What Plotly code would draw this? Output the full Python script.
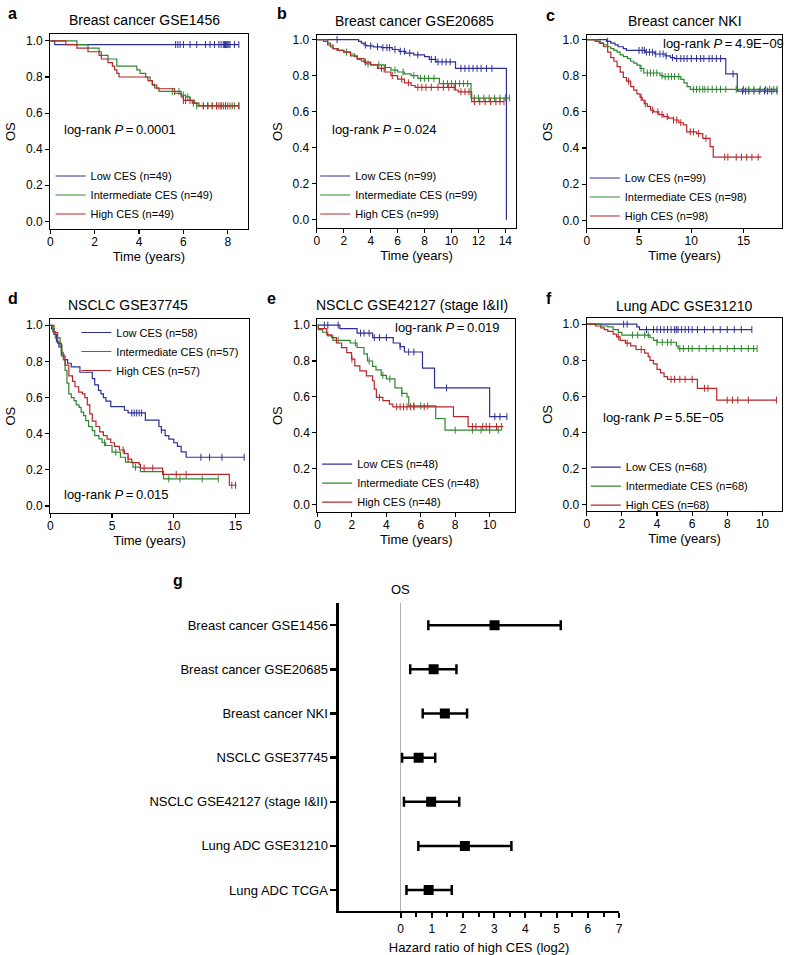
import plotly.graph_objects as go

W, H = 788, 955
FONT = "Liberation Sans"
BLUE, GREEN, RED = "#2d2f96", "#2f862f", "#b8262b"

# ---------------- data: Kaplan-Meier step curves ----------------
# panel a  Breast cancer GSE1456
a_low_t = [0.2]
a_low_s = [0.98]
a_low_end = 8.5
a_low_c = [5.65, 5.75, 5.85, 6.0, 6.3, 6.6, 7.0, 7.2, 7.4, 7.6, 7.7, 7.8, 7.85, 7.9, 7.95, 8.0, 8.05, 8.1, 8.3, 8.5]
a_int_t = [1.2, 1.7, 2.2, 2.3, 2.6, 3.0, 3.9, 4.05, 4.3, 4.5, 4.6, 4.7, 4.9, 5.9, 6.1, 6.3, 6.5, 6.6]
a_int_s = [0.98, 0.96, 0.94, 0.92, 0.90, 0.86, 0.84, 0.82, 0.80, 0.78, 0.76, 0.74, 0.72, 0.70, 0.69, 0.67, 0.655, 0.64]
a_int_end = 8.5
a_int_c = [5.5, 5.6, 5.8, 6.0, 6.2, 6.6, 6.9, 7.1, 7.3, 7.5, 7.7, 7.9, 8.1, 8.3, 8.5]
a_high_t = [0.7, 1.2, 1.7, 2.2, 2.3, 2.6, 2.8, 2.9, 3.0, 3.1, 4.4, 4.6, 4.8, 5.6, 5.9, 6.0, 6.4, 6.7]
a_high_s = [0.98, 0.96, 0.94, 0.92, 0.90, 0.88, 0.86, 0.84, 0.82, 0.80, 0.78, 0.755, 0.735, 0.71, 0.69, 0.67, 0.655, 0.64]
a_high_end = 8.5
a_high_c = [6.0, 6.1, 6.3, 6.45, 6.9, 7.1, 7.3, 7.5, 7.6, 7.7, 7.8, 7.9, 8.0, 8.2, 8.5]

# panel b  Breast cancer GSE20685
b_low_t = [3.1, 3.3, 3.5, 3.7, 4.2, 4.8, 5.6, 6.1, 6.6, 7.2, 8.0, 8.35, 8.85, 10.3, 14.08]
b_low_s = [0.99, 0.98, 0.97, 0.965, 0.96, 0.955, 0.945, 0.935, 0.925, 0.915, 0.905, 0.89, 0.876, 0.84, 0.0]
b_low_end = 14.08
b_low_c = [1.5, 3.6, 4.0, 4.5, 4.9, 5.2, 5.4, 5.8, 6.2, 6.5, 6.9, 7.5, 8.5, 8.8, 9.0, 9.3, 9.6, 9.9,
           10.7, 11.0, 11.3, 11.6, 11.9, 12.2, 12.6, 13.0]
b_int_t = [0.5, 0.8, 1.0, 1.2, 1.6, 2.0, 2.5, 2.8, 3.0, 3.3, 3.6, 4.0, 5.0, 5.5, 6.0, 6.5, 7.0, 7.5, 9.1, 11.45]
b_int_s = [0.99, 0.98, 0.96, 0.95, 0.94, 0.93, 0.92, 0.905, 0.89, 0.88, 0.865, 0.86, 0.845, 0.83, 0.82, 0.81,
           0.80, 0.785, 0.755, 0.675]
b_int_end = 14.3
b_int_c = [2.2, 3.8, 4.6, 5.1, 5.8, 6.4, 7.2, 7.7, 8.0, 8.3, 8.7, 9.4, 9.7, 10.0, 10.3, 10.6, 10.9, 11.2,
           11.7, 12.0, 12.4, 12.8, 13.2, 13.6, 14.0, 14.3]
b_high_t = [0.8, 1.2, 1.5, 2.0, 2.5, 3.0, 3.5, 4.0, 4.5, 5.0, 5.5, 6.0, 6.5, 7.0, 7.3, 10.3, 10.5, 11.5]
b_high_s = [0.97, 0.95, 0.94, 0.93, 0.91, 0.895, 0.875, 0.86, 0.84, 0.82, 0.80, 0.78, 0.76, 0.745, 0.735,
            0.72, 0.71, 0.655]
b_high_end = 13.9
b_high_c = [3.6, 4.8, 5.6, 6.3, 6.8, 7.5, 7.8, 8.1, 8.5, 9.0, 9.4, 9.8, 10.2, 10.7, 11.0, 11.3, 11.7, 12.1,
            12.5, 12.9, 13.3, 13.6, 13.9]

# panel c  Breast cancer NKI
c_low_t = [1.9, 2.3, 2.7, 3.0, 3.5, 3.8, 5.6, 6.5, 7.5, 8.0, 8.4, 13.3, 14.4]
c_low_s = [0.99, 0.98, 0.97, 0.96, 0.95, 0.94, 0.93, 0.92, 0.91, 0.90, 0.895, 0.81, 0.715]
c_low_end = 18.3
c_low_c = [2.0, 5.0, 5.3, 5.5, 5.7, 6.0, 6.3, 6.6, 7.0, 7.3, 7.6, 8.2, 8.6, 9.0, 9.3, 9.6, 10.0, 10.5,
           10.9, 11.2, 11.7, 12.0, 12.4, 12.8, 14.0, 14.9, 15.2, 15.5, 16.0, 16.5, 17.0, 17.3, 17.7, 18.2]
c_int_t = [1.0, 1.3, 1.6, 2.0, 2.3, 2.6, 2.9, 3.2, 3.5, 3.9, 4.2, 4.5, 4.8, 5.1, 5.45, 7.0, 7.3, 9.0,
           9.3, 9.6, 9.9]
c_int_s = [0.99, 0.98, 0.97, 0.96, 0.95, 0.94, 0.93, 0.915, 0.905, 0.895, 0.88, 0.87, 0.858, 0.84, 0.815,
           0.80, 0.795, 0.78, 0.76, 0.74, 0.725]
c_int_end = 18.2
c_int_c = [5.2, 5.8, 6.1, 6.4, 6.7, 7.2, 7.5, 7.8, 8.1, 8.4, 8.8, 10.2, 10.5, 10.8, 11.1, 11.3, 11.6, 12.0,
           12.4, 12.8, 13.3, 14.3, 15.0, 15.5, 16.0, 16.6, 17.1, 17.5, 17.9, 18.2]
c_high_t = [0.8, 1.2, 1.6, 2.0, 2.3, 2.6, 2.9, 3.2, 3.5, 3.8, 4.2, 4.5, 4.8, 5.1, 5.3, 5.5, 5.8, 6.1, 6.4,
            6.9, 7.35, 7.8, 8.3, 8.8, 9.24, 9.56, 10.5, 11.1, 11.8, 12.1]
c_high_s = [0.99, 0.98, 0.96, 0.93, 0.90, 0.88, 0.85, 0.82, 0.79, 0.77, 0.74, 0.72, 0.70, 0.68, 0.665,
            0.645, 0.63, 0.61, 0.60, 0.585, 0.574, 0.565, 0.555, 0.54, 0.528, 0.49, 0.48, 0.454, 0.408, 0.35]
c_high_end = 16.7
c_high_c = [4.0, 5.2, 5.6, 6.3, 6.8, 7.2, 7.7, 8.3, 8.6, 9.0, 9.9, 10.2, 10.7, 11.4, 13.2, 13.5, 14.3,
            14.8, 15.3, 15.8, 16.4]

# panel d  NSCLC GSE37745
d_low_t = [0.1, 0.3, 0.5, 0.7, 0.9, 1.1, 1.4, 1.7, 2.4, 3.4, 3.6, 3.9, 4.1, 4.3, 4.5, 4.9, 6.0, 6.3, 7.7,
           8.8, 9.0, 9.3, 9.6, 10.0, 10.3, 10.6, 11.0]
d_low_s = [0.98, 0.95, 0.91, 0.88, 0.84, 0.81, 0.79, 0.77, 0.74, 0.705, 0.67, 0.64, 0.62, 0.60, 0.58, 0.55,
           0.53, 0.515, 0.475, 0.44, 0.42, 0.39, 0.37, 0.35, 0.33, 0.30, 0.27]
d_low_end = 15.7
d_low_c = [6.6, 6.8, 7.0, 7.2, 7.4, 9.0, 12.2, 12.9, 13.9, 15.7]
d_int_t = [0.2, 0.4, 0.8, 0.95, 1.05, 1.2, 1.35, 1.5, 1.7, 1.93, 2.1, 2.33, 2.5, 2.7, 2.87, 3.1, 3.4, 3.6,
           3.94, 4.2, 4.48, 5.0, 5.68, 6.09, 6.7, 7.3, 9.17]
d_int_s = [0.965, 0.93, 0.89, 0.85, 0.81, 0.75, 0.68, 0.62, 0.60, 0.583, 0.56, 0.546, 0.52, 0.50, 0.473,
           0.44, 0.417, 0.39, 0.371, 0.35, 0.335, 0.298, 0.27, 0.243, 0.215, 0.19, 0.15]
d_int_end = 13.6
d_int_c = [4.4, 5.3, 6.9, 9.6, 10.5, 12.3, 13.6]
d_high_t = [0.3, 0.6, 0.9, 1.2, 1.5, 1.8, 2.0, 2.3, 2.6, 2.8, 3.0, 3.2, 3.4, 3.7, 4.0, 4.3, 4.6, 4.9, 5.2,
            5.6, 6.0, 6.3, 6.6, 7.2, 7.3, 9.1, 14.5]
d_high_s = [0.96, 0.90, 0.83, 0.78, 0.72, 0.69, 0.66, 0.63, 0.62, 0.60, 0.56, 0.51, 0.47, 0.44, 0.41, 0.39,
            0.37, 0.35, 0.33, 0.31, 0.29, 0.26, 0.24, 0.23, 0.21, 0.175, 0.115]
d_high_end = 15.1
d_high_c = [5.9, 6.3, 7.6, 8.3, 10.2, 11.0, 14.7, 15.0]

# panel e  NSCLC GSE42127 (stage I&II)
e_low_t = [1.3, 2.3, 3.2, 4.4, 4.8, 5.05, 6.1, 6.8, 10.0]
e_low_s = [0.98, 0.955, 0.93, 0.90, 0.88, 0.85, 0.76, 0.65, 0.49]
e_low_end = 11.0
e_low_c = [0.4, 0.6, 1.2, 2.5, 2.7, 3.0, 3.3, 3.6, 4.0, 4.8, 5.3, 5.6, 7.5, 10.3, 10.6, 11.0]
e_int_t = [0.05, 0.3, 0.6, 0.9, 1.9, 2.3, 2.7, 2.9, 3.2, 3.4, 3.7, 4.0, 4.5, 4.9, 5.2, 5.3, 6.87, 7.41]
e_int_s = [0.975, 0.96, 0.94, 0.915, 0.90, 0.875, 0.84, 0.80, 0.77, 0.75, 0.72, 0.70, 0.65, 0.62, 0.60,
           0.55, 0.48, 0.415]
e_int_end = 10.7
e_int_c = [1.2, 2.2, 3.0, 3.8, 4.2, 4.9, 5.6, 6.0, 6.4, 8.0, 9.0, 9.5, 10.0, 10.5]
e_high_t = [0.02, 0.54, 0.83, 1.1, 1.4, 1.7, 1.98, 2.17, 2.46, 2.84, 3.2, 3.3, 3.42, 3.8, 4.18, 4.38, 7.9, 8.75]
e_high_s = [0.98, 0.945, 0.93, 0.90, 0.874, 0.847, 0.81, 0.773, 0.745, 0.717, 0.69, 0.643, 0.597, 0.579,
            0.56, 0.545, 0.49, 0.435]
e_high_end = 10.8
e_high_c = [2.0, 3.6, 4.6, 4.8, 5.0, 5.2, 5.4, 5.6, 6.2, 9.0, 9.2, 9.6, 9.8, 10.0, 10.4, 10.7]

# panel f  Lung ADC GSE31210
f_low_t = [2.85, 3.0]
f_low_s = [0.985, 0.97]
f_low_end = 9.4
f_low_c = [2.1, 2.3, 3.4, 3.8, 4.0, 4.2, 4.4, 4.6, 4.8, 5.0, 5.1, 5.2, 5.4, 5.6, 5.8, 6.0, 6.3, 6.7, 7.2,
           7.6, 8.0, 8.4, 8.8, 9.4]
f_int_t = [0.8, 1.2, 1.5, 1.8, 2.0, 3.6, 3.8, 4.0, 5.1, 5.2]
f_int_s = [0.99, 0.985, 0.97, 0.955, 0.94, 0.925, 0.91, 0.90, 0.88, 0.865]
f_int_end = 9.7
f_int_c = [2.6, 2.9, 3.3, 3.5, 4.0, 4.3, 4.6, 4.8, 5.3, 5.5, 5.8, 6.0, 6.4, 6.8, 7.2, 7.6, 8.0, 8.4, 8.8,
           9.2, 9.5, 9.7]
f_high_t = [0.5, 0.8, 1.0, 1.2, 1.5, 1.7, 1.9, 2.2, 2.5, 2.8, 3.3, 3.5, 3.6, 3.8, 4.0, 4.2, 4.4, 4.6, 6.3, 7.4]
f_high_s = [0.99, 0.98, 0.97, 0.96, 0.945, 0.93, 0.91, 0.895, 0.88, 0.86, 0.84, 0.82, 0.80, 0.78, 0.75,
            0.73, 0.71, 0.695, 0.645, 0.58]
f_high_end = 10.8
f_high_c = [1.8, 2.3, 3.1, 4.8, 5.0, 5.3, 5.6, 6.0, 6.7, 6.9, 8.0, 8.3, 8.6, 9.2, 10.8]

panel_titles = ["Breast cancer GSE1456", "Breast cancer GSE20685", "Breast cancer NKI",
                "NSCLC GSE37745", "NSCLC GSE42127 (stage I&II)", "Lung ADC GSE31210"]
panel_letters = ["a", "b", "c", "d", "e", "f", "g"]
panel_n = [(49, 49, 49), (99, 99, 99), (99, 98, 98), (58, 57, 57), (48, 48, 48), (68, 68, 68)]
panel_p = ["0.0001", "0.024", "4.9E\u221209", "0.015", "0.019", "5.5E\u221205"]
panel_xticks = [[0, 2, 4, 6, 8], [0, 2, 4, 6, 8, 10, 12, 14], [0, 5, 10, 15], [0, 5, 10, 15],
                [0, 2, 4, 6, 8, 10], [0, 2, 4, 6, 8, 10]]
y_ticks = [0.0, 0.2, 0.4, 0.6, 0.8, 1.0]

# forest plot (panel g)
forest_labels = ["Breast cancer GSE1456", "Breast cancer GSE20685", "Breast cancer NKI", "NSCLC GSE37745",
                 "NSCLC GSE42127 (stage I&II)", "Lung ADC GSE31210", "Lung ADC TCGA"]
forest_hr = [3.01, 1.06, 1.42, 0.58, 0.98, 2.06, 0.90]
forest_lo = [0.89, 0.31, 0.71, 0.05, 0.11, 0.57, 0.19]
forest_hi = [5.13, 1.79, 2.13, 1.11, 1.88, 3.55, 1.64]
forest_xticks = [0, 1, 2, 3, 4, 5, 6, 7]
forest_minor = [0.5, 1.5, 2.5, 3.5, 4.5, 5.5, 6.5]

panels = [
    [(a_low_t, a_low_s, a_low_end, a_low_c), (a_int_t, a_int_s, a_int_end, a_int_c), (a_high_t, a_high_s, a_high_end, a_high_c)],
    [(b_low_t, b_low_s, b_low_end, b_low_c), (b_int_t, b_int_s, b_int_end, b_int_c), (b_high_t, b_high_s, b_high_end, b_high_c)],
    [(c_low_t, c_low_s, c_low_end, c_low_c), (c_int_t, c_int_s, c_int_end, c_int_c), (c_high_t, c_high_s, c_high_end, c_high_c)],
    [(d_low_t, d_low_s, d_low_end, d_low_c), (d_int_t, d_int_s, d_int_end, d_int_c), (d_high_t, d_high_s, d_high_end, d_high_c)],
    [(e_low_t, e_low_s, e_low_end, e_low_c), (e_int_t, e_int_s, e_int_end, e_int_c), (e_high_t, e_high_s, e_high_end, e_high_c)],
    [(f_low_t, f_low_s, f_low_end, f_low_c), (f_int_t, f_int_s, f_int_end, f_int_c), (f_high_t, f_high_s, f_high_end, f_high_c)],
]

# ---------------- layout geometry (pixels) ----------------
def PX(px):
    return px / W


def PY(py):
    return 1 - py / H


# plot boxes: (left, right, top, bottom) in px
boxes = [(47.7, 246.7, 32, 228), (316.7, 517.7, 33, 227), (589, 786.2, 33.3, 226.7),
         (47.7, 248.3, 318.3, 512.7), (317.3, 516.7, 318.3, 511.7), (589, 786.2, 316.7, 510.7)]
xranges = [[0, 8.89], [0, 14.8], [0, 18.7], [0, 16.1], [0, 11.48], [0, 11.13]]
yranges = [[-0.044, 1.039], [-0.048, 1.026], [-0.042, 1.024], [-0.039, 1.033], [-0.041, 1.032], [-0.035, 1.036]]
title_pos = [(143, 18), (415, 19), (688, 19), (126, 304), (413, 304), (687, 305)]
letter_pos = [(3, 12), (274, 12), (546, 14), (3, 297), (264, 297), (546, 297), (170, 580)]
p_pos = [(60, 128), (330, 128), (664, 42), (60, 494), (393, 327), (603, 417)]
# legend: (x of the key line start, y of the middle row)
legend_rows = [(54, 195), (321, 195), (593, 197), (80, 352), (323, 484), (594, 487)]


def surv_at(t, s, c):
    v = 1.0
    for ti, si in zip(t, s):
        if ti <= c:
            v = si
    return v


fig = go.Figure()
colors = [BLUE, GREEN, RED]
gnames = ["Low CES", "Intermediate CES", "High CES"]
layout = {}
annotations = []

for i, groups in enumerate(panels):
    k = "" if i == 0 else str(i + 1)
    xa, ya = "x" + k, "y" + k
    leg = "legend" + k
    for g, (t, s, end, cens) in enumerate(groups):
        xs = [0] + list(t) + [end]
        ys = [1.0] + list(s) + [s[-1]]
        fig.add_trace(go.Scatter(
            x=xs, y=ys, mode="lines", line=dict(color=colors[g], width=1.2, shape="hv"),
            name=f"{gnames[g]} (n={panel_n[i][g]})", xaxis=xa, yaxis=ya, legend=leg, showlegend=True))
        fig.add_trace(go.Scatter(
            x=cens, y=[surv_at(t, s, c) for c in cens], mode="markers",
            marker=dict(symbol="line-ns-open", size=5, color=colors[g], line=dict(color=colors[g], width=1)),
            xaxis=xa, yaxis=ya, showlegend=False, hoverinfo="skip"))
    L, R, T, B = boxes[i]
    axcommon = dict(showline=True, linecolor="black", linewidth=1.2, mirror=True, ticks="outside",
                    ticklen=4, tickwidth=1.1, tickcolor="black", showgrid=False, zeroline=False,
                    tickfont=dict(family=FONT, size=12, color="black"))
    layout["xaxis" + k] = dict(axcommon, domain=[PX(L), PX(R)], range=xranges[i], tickvals=panel_xticks[i],
                               anchor=ya, ticklabelstandoff=-3,
                               title=dict(text="Time (years)", font=dict(family=FONT, size=13, color="black"),
                                          standoff=3))
    layout["yaxis" + k] = dict(axcommon, domain=[PY(B), PY(T)], range=yranges[i], tickvals=y_ticks,
                               tickformat=".1f", anchor=xa,
                               title=dict(text="OS", font=dict(family=FONT, size=13, color="black"),
                                          standoff=7))
    lx, ly = legend_rows[i]
    layout[leg] = dict(x=PX(lx - 6), y=PY(ly - 19 - 16), xanchor="left", yanchor="top",
                       bgcolor="rgba(0,0,0,0)", borderwidth=0, font=dict(family=FONT, size=11, color="black"),
                       tracegroupgap=0)
    tx, ty = title_pos[i]
    annotations.append(dict(text=panel_titles[i], x=PX(tx), y=PY(ty), xref="paper", yref="paper",
                            xanchor="center", yanchor="middle", showarrow=False,
                            font=dict(family=FONT, size=14, color="black")))
    px_, py_ = p_pos[i]
    annotations.append(dict(text=f"log-rank <i>P</i>\u2009=\u2009{panel_p[i]}", x=PX(px_), y=PY(py_),
                            xref="paper", yref="paper", xanchor="left", yanchor="middle", showarrow=False,
                            font=dict(family=FONT, size=13, color="black")))

# forest plot
err_plus = [h - m for h, m in zip(forest_hi, forest_hr)]
err_minus = [m - l for m, l in zip(forest_hr, forest_lo)]
fig.add_trace(go.Scatter(
    x=forest_hr, y=forest_labels, mode="markers", xaxis="x7", yaxis="y7", showlegend=False,
    marker=dict(symbol="square", size=10, color="black"),
    error_x=dict(type="data", array=err_plus, arrayminus=err_minus, color="black", thickness=2.5, width=5)))

layout["xaxis7"] = dict(domain=[PX(339), PX(621.7)], range=[-1.97, 7.0], tickvals=forest_xticks,
                        showline=True, linecolor="black", linewidth=2.5, ticks="outside", ticklen=5,
                        tickwidth=2, tickcolor="black", showgrid=False, anchor="y7",
                        zeroline=True, zerolinecolor="#b0b0b0", zerolinewidth=1.3,
                        minor=dict(tickvals=forest_minor, ticks="outside", ticklen=4, tickwidth=2,
                                   tickcolor="black", showgrid=False),
                        tickfont=dict(family=FONT, size=12, color="black"),
                        title=dict(text="Hazard ratio of high CES (log2)",
                                   font=dict(family=FONT, size=13, color="black"), standoff=8))
layout["yaxis7"] = dict(domain=[PY(911.7), PY(603)], type="category", categoryorder="array",
                        categoryarray=forest_labels, range=[6.47, -0.5], showline=True, linecolor="black",
                        linewidth=2.5, ticks="outside", ticklen=6, tickwidth=2.5, tickcolor="black",
                        showgrid=False, zeroline=False, anchor="x7",
                        tickfont=dict(family=FONT, size=13, color="black"))
annotations.append(dict(text="OS", x=0, xref="x7", y=PY(589), yref="paper", xanchor="center",
                        yanchor="middle", showarrow=False, font=dict(family=FONT, size=13, color="black")))

for j, letter in enumerate(panel_letters):
    lx, ly = letter_pos[j]
    annotations.append(dict(text=f"<b>{letter}</b>", x=PX(lx), y=PY(ly), xref="paper", yref="paper",
                            xanchor="left", yanchor="middle", showarrow=False,
                            font=dict(family=FONT, size=16, color="black")))

fig.update_layout(width=W, height=H, margin=dict(l=0, r=0, t=0, b=0), paper_bgcolor="white",
                  plot_bgcolor="white", annotations=annotations, hovermode=False, **layout)
fig.write_html("out.html", config={"displayModeBar": False, "staticPlot": True},
               post_script="document.body.style.margin='0px';document.body.style.overflow='hidden';")
